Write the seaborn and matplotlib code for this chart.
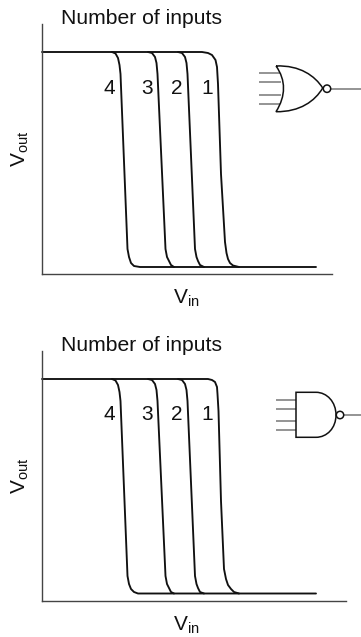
import matplotlib
matplotlib.use("Agg")
import matplotlib.pyplot as plt
import pandas as pd
import seaborn as sns
from matplotlib.patches import Circle, PathPatch
from matplotlib.path import Path

# curve values (arbitrary units, y rises from the axis)
vin_1_top = [0, 160, 166, 170, 173.5, 175, 176, 179, 183, 184.5, 186, 188, 191, 197]
vout_1_top = [222, 222, 221, 219, 214, 207, 190, 100, 32, 21, 15, 11, 8.5, 7]
vin_2_top = [136, 140, 143, 144.5, 145.5, 153, 154.5, 156, 158, 162]
vout_2_top = [222, 221, 217, 211, 200, 25, 17, 13, 9, 7]
vin_3_top = [106, 110, 113, 114.5, 115.5, 123.5, 125, 127, 129, 132]
vout_3_top = [222, 221, 217, 211, 200, 25, 17, 13, 9, 7]
vin_4_top = [70, 73.5, 76, 77.5, 78.5, 85.5, 87, 89, 92, 98, 274]
vout_4_top = [222, 220.5, 216, 209, 200, 25, 17, 11, 8, 7, 7]

vin_1_low = [0, 166, 170, 173, 175, 175.5, 176.5, 179, 182, 184, 186, 189, 192, 197]
vout_1_low = [222, 222, 221, 219, 214, 207, 190, 100, 32, 22, 16, 12, 9, 7.5]
vin_2_low = [136, 140, 143, 144.5, 145.5, 153, 154.5, 156, 158, 162]
vout_2_low = [222, 221, 217, 211, 200, 25, 17, 13, 9, 7.5]
vin_3_low = [106, 110, 113, 114.5, 115.5, 123.5, 125, 127, 129, 132]
vout_3_low = [222, 221, 217, 211, 200, 25, 17, 13, 9, 7.5]
vin_4_low = [70, 73.5, 76, 77.5, 78.5, 85.5, 87, 89, 92, 96, 274]
vout_4_low = [222, 220.5, 216, 209, 200, 25, 17, 12, 9, 7.5, 7.5]

input_labels = ["4", "3", "2", "1"]
title_text = "Number of inputs"
CURVE = "#111111"
AXIS = "#444444"
WIRE = "#777777"


def build_frame(curves):
    frames = []
    for n, (x, y) in enumerate(curves, 1):
        frames.append(pd.DataFrame({"vin": x, "vout": y, "inputs": str(n)}))
    return pd.concat(frames, ignore_index=True)


def draw_panel(ax, df, label_x, width):
    sns.lineplot(
        data=df, x="vin", y="vout", units="inputs", estimator=None, sort=False,
        color=CURVE, linewidth=1.35, ax=ax, legend=False,
        solid_joinstyle="round", clip_on=False
    )
    ax.set_xlim(0, width)
    ax.set_ylim(0, 250)
    ax.set_xticks([])
    ax.set_yticks([])
    ax.spines["top"].set_visible(False)
    ax.spines["right"].set_visible(False)
    for side in ["left", "bottom"]:
        ax.spines[side].set_color(AXIS)
        ax.spines[side].set_linewidth(1.0)
    ax.set_xlabel(r"$\mathrm{V_{in}}$", fontsize=15)
    ax.xaxis.set_label_coords(144 / width, -0.053, transform=ax.transAxes)
    ax.xaxis.label.set_va("top")
    ax.set_ylabel(r"$\mathrm{V_{out}}$", fontsize=15)
    ax.yaxis.set_label_coords(-11 / width, 0.5, transform=ax.transAxes)
    ax.text(19, 255.5, title_text, fontsize=15.2, va="center", ha="left", clip_on=False)
    for x, text in zip(label_x, input_labels):
        ax.text(x, 186, text, fontsize=15, ha="center", va="center")


def wires(ax, x0, x1, ys):
    for y in ys:
        ax.plot([x0, x1], [y, y], color=WIRE, lw=1.1, solid_capstyle="butt")


def nor_gate(ax):
    wires(ax, 259, 281, [73.3, 82.3, 94.7, 104])
    wires(ax, 331, 361, [88.7])
    verts = [(276, 66), (300, 65), (315, 76), (322.7, 88),
             (315, 101), (300, 112), (276, 111.7),
             (286, 96), (286, 80), (276, 66)]
    codes = [Path.MOVETO] + [Path.CURVE4] * 9
    ax.add_patch(PathPatch(Path(verts, codes), fc="white", ec=CURVE, lw=1.1, zorder=3))
    ax.add_patch(Circle((327, 88.7), 3.7, fc="white", ec=CURVE, lw=1.1, zorder=4))


def nand_gate(ax):
    wires(ax, 276, 296, [399.7, 408.7, 421, 430])
    wires(ax, 343, 361, [415])
    verts = [(296, 392.3), (316, 392.3), (327, 392.3), (336, 402), (336, 415),
             (336, 428), (327, 437.3), (316, 437.3), (296, 437.3), (296, 392.3)]
    codes = [Path.MOVETO, Path.LINETO, Path.CURVE4, Path.CURVE4, Path.CURVE4,
             Path.CURVE4, Path.CURVE4, Path.CURVE4, Path.LINETO, Path.CLOSEPOLY]
    ax.add_patch(PathPatch(Path(verts, codes), fc="white", ec=CURVE, lw=1.1, zorder=3))
    ax.add_patch(Circle((340, 415), 3.7, fc="white", ec=CURVE, lw=1.1, zorder=4))


def main():
    sns.set_theme(style="white")
    plt.rcParams["font.family"] = ["Liberation Sans", "DejaVu Sans"]
    plt.rcParams["mathtext.fontset"] = "custom"
    plt.rcParams["mathtext.rm"] = "Liberation Sans"
    plt.rcParams["text.color"] = "#111111"
    plt.rcParams["axes.labelcolor"] = "#111111"

    W, H = 361, 637
    fig = plt.figure(figsize=(W / 100, H / 100), dpi=100)

    ax_top = fig.add_axes([42 / W, 1 - 274 / H, 290 / W, 250 / H])
    ax_low = fig.add_axes([42 / W, 1 - 601 / H, 304 / W, 250 / H])

    top = build_frame([(vin_1_top, vout_1_top), (vin_2_top, vout_2_top),
                       (vin_3_top, vout_3_top), (vin_4_top, vout_4_top)])
    low = build_frame([(vin_1_low, vout_1_low), (vin_2_low, vout_2_low),
                       (vin_3_low, vout_3_low), (vin_4_low, vout_4_low)])

    draw_panel(ax_top, top, [67, 105, 135, 165], 290)
    draw_panel(ax_low, low, [67, 105, 135, 165], 304)

    # overlay in picture pixels for the two gate symbols
    overlay = fig.add_axes([0, 0, 1, 1])
    overlay.set_xlim(0, W)
    overlay.set_ylim(H, 0)
    overlay.axis("off")
    nor_gate(overlay)
    nand_gate(overlay)

    fig.savefig("out.png", dpi=100)
    plt.close(fig)


if __name__ == "__main__":
    main()
